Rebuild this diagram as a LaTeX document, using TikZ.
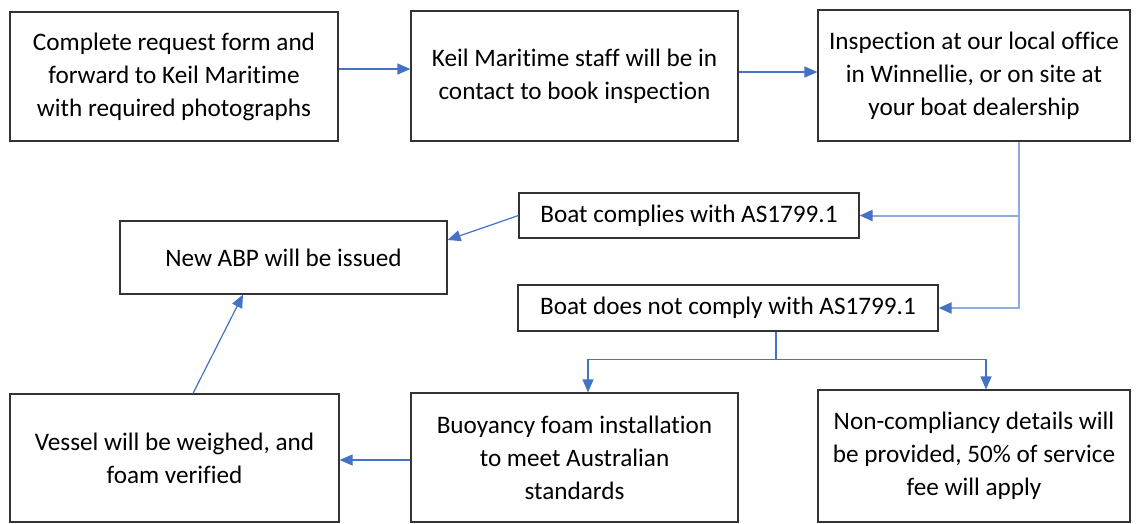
\documentclass[tikz,border=0pt]{standalone}
\usepackage{fontspec}
\setmainfont{Carlito}[Ligatures=NoCommon]
\usetikzlibrary{arrows.meta}
\definecolor{arrowblue}{HTML}{4472C4}
\definecolor{lightblue}{HTML}{8FAADC}
\begin{document}
\begin{tikzpicture}[x=1pt,y=-1pt,
  box/.style={draw=black!80, line width=1.2pt, inner sep=0pt, align=center,
    font=\fontsize{25.2}{33}\selectfont},
  conn/.style={draw=arrowblue, line width=1.2pt, -{Triangle[length=13pt,width=11pt]}},
  plainline/.style={draw=arrowblue, line width=1.2pt},
  lightline/.style={draw=lightblue, line width=2pt},
  lightconn/.style={draw=lightblue, line width=2pt, -{Triangle[length=13pt,width=11pt,color=arrowblue]}}]
\useasboundingbox (0,0) rectangle (1139,523);
\fill[white] (0,0) rectangle (1139,523);

\node[box, minimum width=328pt, minimum height=129pt] (n1) at (174,76.5)
  {Complete request form and\\forward to Keil Maritime\\with required photographs};
\node[box, minimum width=327pt, minimum height=130pt] (n2) at (574.5,76)
  {Keil Maritime staff will be in\\contact to book inspection};
\node[box, minimum width=312pt, minimum height=131pt] (n3) at (974,75.5)
  {Inspection at our local office\\in Winnellie, or on site at\\your boat dealership};
\node[box, minimum width=340pt, minimum height=45pt] (nc) at (689,215.5)
  {Boat complies with AS1799.1};
\node[box, minimum width=327pt, minimum height=73pt] (nabp) at (283.5,257.5)
  {New ABP will be issued};
\node[box, minimum width=420pt, minimum height=46pt] (nn) at (728,308)
  {Boat does not comply with AS1799.1};
\node[box, minimum width=327pt, minimum height=129pt] (nbuoy) at (574.5,457.5)
  {Buoyancy foam installation\\to meet Australian\\standards};
\node[box, minimum width=329pt, minimum height=128pt] (nves) at (174.5,458)
  {Vessel will be weighed, and\\foam verified};
\node[box, minimum width=312pt, minimum height=132pt] (nnon) at (974,456)
  {Non-compliancy details will\\be provided, 50\% of service\\fee will apply};

% top row
\coordinate (a1) at ([yshift=7.5pt]n1.east);
\draw[conn] (a1) -- (a1 -| n2.west);
\coordinate (a2) at ([yshift=4pt]n2.east);
\draw[conn] (a2) -- (a2 -| n3.west);

% inspection branches
\coordinate (b0) at ([xshift=45pt]n3.south);
\draw[lightconn] (b0) |- (nn.east);
\draw[lightconn] (b0 |- nc.east) -- (nc.east);

% complies -> ABP
\coordinate (e1) at ([yshift=17.5pt]nabp.east);
\draw[conn] (nc.west) -- (e1);

% does not comply branches
\coordinate (c0) at ([xshift=48pt]nn.south);
\coordinate (c1) at ([yshift=-28pt]c0);
\coordinate (c2) at ([xshift=13.5pt]nbuoy.north);
\coordinate (c3) at ([xshift=12pt]nnon.north);
\draw[plainline] (c0) -- (c1);
\draw[conn] (c1) -| (c2);
\draw[conn] (c1) -| (c3);

% buoyancy -> vessel
\coordinate (d0) at ([yshift=-2.5pt]nbuoy.west);
\draw[conn] (d0) -- (d0 -| nves.east);

% vessel -> ABP
\coordinate (f0) at ([xshift=18.5pt]nves.north);
\coordinate (f1) at ([xshift=-40.5pt]nabp.south);
\draw[conn] (f0) -- (f1);
\end{tikzpicture}
\end{document}
